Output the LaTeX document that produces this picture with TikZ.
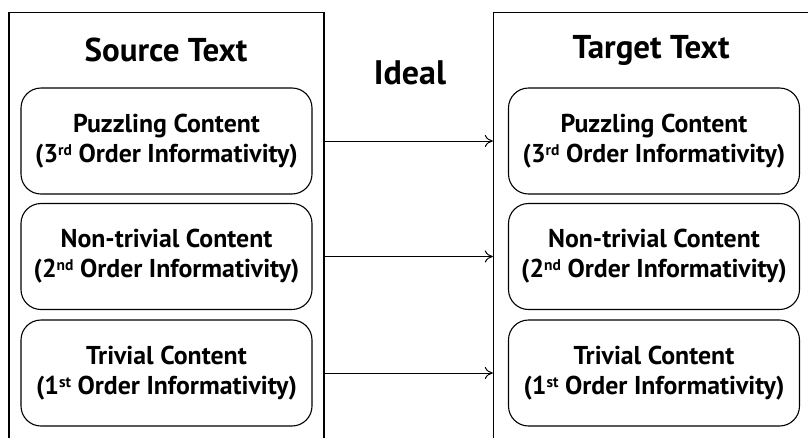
\documentclass[tikz,border=0pt]{standalone}
\usepackage{fontspec}
\setmainfont{PT Sans}
\usetikzlibrary{arrows.meta}
\newcommand\supx[1]{\raisebox{0.55ex}{\fontsize{15.5}{16}\selectfont #1}}
\begin{document}
\begin{tikzpicture}[x=1pt,y=-1pt,
  outerbox/.style={draw, line width=1.3pt, minimum width=315pt, minimum height=460pt, anchor=north, inner sep=0pt},
  innerbox/.style={draw, line width=1.1pt, rounded corners=20pt, minimum width=291pt, minimum height=106pt, align=center, inner sep=0pt, font=\bfseries\fontsize{25.8}{30}\selectfont},
  title/.style={font=\bfseries\fontsize{33}{36}\selectfont, inner sep=0pt},
  link/.style={-{To[length=8pt,width=12pt]}, line width=1pt}]
\useasboundingbox (0,0) rectangle (808,437);
\clip (0,0) rectangle (808,437);
\node[outerbox] (src) at (166.5,12) {};
\node[outerbox] (tgt) at (651,12) {};
\node[title] (srct) at (166,50) {Source Text};
\node[title] (tgtt) at (651,50) {Target Text};
\node[title, font=\bfseries\fontsize{34}{36}\selectfont] (ideal) at (410,73) {Ideal};
\node[innerbox] (s1) at (166.5,141) {Puzzling Content\\(3\supx{rd} Order Informativity)};
\node[innerbox] (s2) at (166.5,256.5) {Non-trivial Content\\(2\supx{nd} Order Informativity)};
\node[innerbox] (s3) at (166.5,373) {Trivial Content\\(1\supx{st} Order Informativity)};
\node[innerbox] (t1) at (654,141) {Puzzling Content\\(3\supx{rd} Order Informativity)};
\node[innerbox] (t2) at (654,256.5) {Non-trivial Content\\(2\supx{nd} Order Informativity)};
\node[innerbox] (t3) at (654,373) {Trivial Content\\(1\supx{st} Order Informativity)};
\draw[link] (src.east |- s1) -- (tgt.west |- t1);
\draw[link] (src.east |- s2) -- (tgt.west |- t2);
\draw[link] (src.east |- s3) -- (tgt.west |- t3);
\end{tikzpicture}
\end{document}
